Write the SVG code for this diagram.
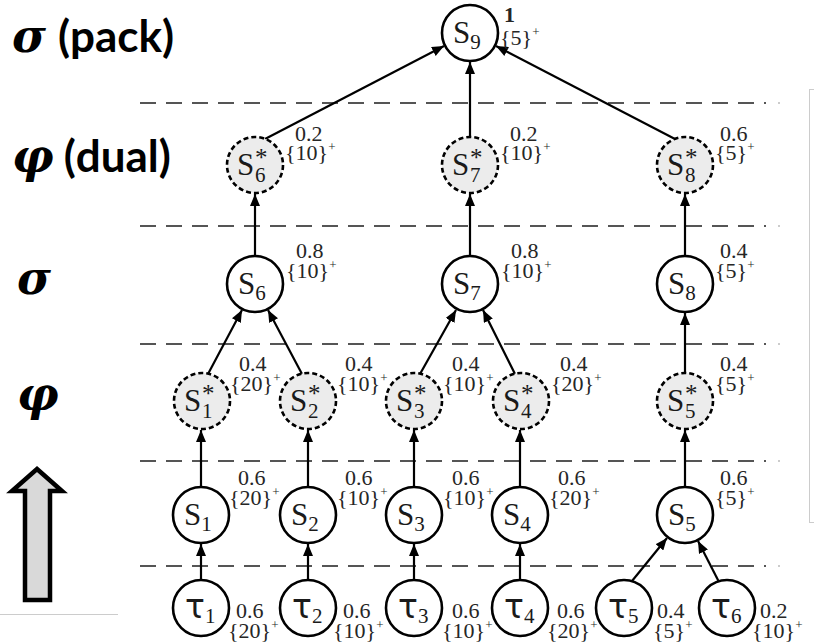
<svg xmlns="http://www.w3.org/2000/svg" width="814" height="642" viewBox="0 0 814 642">
  <defs>
    <marker id="ah" markerWidth="12" markerHeight="10" refX="12" refY="5" orient="auto" markerUnits="userSpaceOnUse">
      <path d="M0,0 L12,5 L0,10 z" fill="#000"/>
    </marker>
  </defs>
  <style>
    .node circle { fill: #fff; stroke: #000; stroke-width: 2.6; }
    .dual circle { fill: #ececec; stroke-dasharray: 5 3; }
    .nm { font-family: "Liberation Serif", serif; font-size: 31px; fill: #1a1a1a; }
    .sm { font-family: "Liberation Serif", serif; font-size: 21px; }
    .st { font-family: "Liberation Serif", serif; font-size: 25px; }
    .tau { font-family: "DejaVu Sans", sans-serif; font-size: 33px; fill: #1a1a1a; }
    .lbl { font-family: "Liberation Serif", serif; font-size: 22px; fill: #262626; }
    .sp { font-size: 13px; }
    .bold { font-weight: bold; }
    .level { stroke: #555; stroke-width: 2; stroke-dasharray: 16 10; fill: none; }
    .tick { fill: #bbb; }
    .edge { stroke: #000; stroke-width: 2.2; fill: none; marker-end: url(#ah); }
    .side { font-family: Lato, "Open Sans", sans-serif; font-weight: bold; font-size: 44px; fill: #000; }
    .greek { font-family: "DejaVu Serif", serif; font-weight: bold; font-style: italic; font-size: 46px; fill: #000; }
    .faint { stroke: #ccc; stroke-width: 1; fill: none; }
  </style>

  <!-- level separators -->
  <g id="levels">
    <line class="level" x1="140" y1="103" x2="766" y2="103"/>
    <line class="level" x1="140" y1="226" x2="766" y2="226"/>
    <line class="level" x1="140" y1="344" x2="766" y2="344"/>
    <line class="level" x1="140" y1="461" x2="766" y2="461"/>
    <line class="level" x1="140" y1="566" x2="766" y2="566"/>
    <circle class="tick" cx="779" cy="103" r="1"/>
    <circle class="tick" cx="779" cy="226" r="1"/>
    <circle class="tick" cx="779" cy="344" r="1"/>
    <circle class="tick" cx="779" cy="461" r="1"/>
    <circle class="tick" cx="779" cy="566" r="1"/>
  </g>

  <!-- faint frame edges -->
  <rect class="faint" x="809.5" y="89.5" width="20" height="433"/>
  <line class="faint" x1="0" y1="614.5" x2="118" y2="614.5"/>

  <!-- level names -->
  <g id="level-names">
    <text x="12" y="52"><tspan class="greek">σ</tspan><tspan class="side" dx="12">(pack)</tspan></text>
    <text x="12" y="172"><tspan class="greek">φ</tspan><tspan class="side" dx="10">(dual)</tspan></text>
    <text class="greek" x="17" y="294">σ</text>
    <text class="greek" x="17" y="410">φ</text>
  </g>

  <!-- direction arrow -->
  <polygon id="up-arrow" points="37,469 62,491 50,491 50,600 25,600 25,491 12,491" fill="#d9d9d9" stroke="#000" stroke-width="4.5" stroke-linejoin="miter"/>

  <!-- connectors -->
  <g id="edges">
    <line class="edge" x1="265" y1="139" x2="444" y2="46"/>
    <line class="edge" x1="470" y1="137" x2="470" y2="62"/>
    <line class="edge" x1="675" y1="139" x2="496" y2="46"/>
    <line class="edge" x1="255" y1="256" x2="255" y2="194"/>
    <line class="edge" x1="470" y1="256" x2="470" y2="194"/>
    <line class="edge" x1="685" y1="256" x2="685" y2="194"/>
    <line class="edge" x1="208" y1="374" x2="242" y2="310"/>
    <line class="edge" x1="302" y1="374" x2="268" y2="310"/>
    <line class="edge" x1="420" y1="374" x2="456" y2="310"/>
    <line class="edge" x1="515" y1="374" x2="483" y2="310"/>
    <line class="edge" x1="685" y1="373" x2="685" y2="313"/>
    <line class="edge" x1="201" y1="487" x2="201" y2="430"/>
    <line class="edge" x1="308" y1="487" x2="308" y2="430"/>
    <line class="edge" x1="414" y1="487" x2="414" y2="430"/>
    <line class="edge" x1="520" y1="487" x2="520" y2="430"/>
    <line class="edge" x1="685" y1="487" x2="685" y2="430"/>
    <line class="edge" x1="201" y1="580" x2="201" y2="544"/>
    <line class="edge" x1="308" y1="580" x2="308" y2="544"/>
    <line class="edge" x1="414" y1="580" x2="414" y2="544"/>
    <line class="edge" x1="520" y1="580" x2="520" y2="544"/>
    <line class="edge" x1="632" y1="581" x2="667" y2="538"/>
    <line class="edge" x1="719" y1="582" x2="698" y2="541"/>
  </g>

  <!-- pack level -->
  <g id="S9" class="node">
    <circle cx="470" cy="33" r="28"/>
    <text class="nm" x="453" y="43">S<tspan class="sm" dy="6">9</tspan></text>
    <text class="lbl bold" x="504" y="22">1</text>
    <text class="lbl" x="500" y="45">{5}<tspan class="sp" dy="-9">+</tspan></text>
  </g>

  <!-- dual level -->
  <g id="S6d" class="node dual">
    <circle cx="255" cy="165" r="28"/>
    <text class="nm" x="237" y="175">S<tspan class="st" x="255" dy="-9">*</tspan><tspan class="sm" x="255" dy="16">6</tspan></text>
    <text class="lbl" x="295" y="141">0.2</text>
    <text class="lbl" x="285" y="160">{10}<tspan class="sp" dy="-9">+</tspan></text>
  </g>
  <g id="S7d" class="node dual">
    <circle cx="470" cy="165" r="28"/>
    <text class="nm" x="452" y="175">S<tspan class="st" x="470" dy="-9">*</tspan><tspan class="sm" x="470" dy="16">7</tspan></text>
    <text class="lbl" x="510" y="141">0.2</text>
    <text class="lbl" x="500" y="160">{10}<tspan class="sp" dy="-9">+</tspan></text>
  </g>
  <g id="S8d" class="node dual">
    <circle cx="685" cy="165" r="28"/>
    <text class="nm" x="667" y="175">S<tspan class="st" x="685" dy="-9">*</tspan><tspan class="sm" x="685" dy="16">8</tspan></text>
    <text class="lbl" x="720" y="141">0.6</text>
    <text class="lbl" x="715" y="160">{5}<tspan class="sp" dy="-9">+</tspan></text>
  </g>

  <!-- sigma level -->
  <g id="S6" class="node">
    <circle cx="255" cy="284" r="28"/>
    <text class="nm" x="238" y="294">S<tspan class="sm" dy="6">6</tspan></text>
    <text class="lbl" x="296" y="258">0.8</text>
    <text class="lbl" x="286" y="278">{10}<tspan class="sp" dy="-9">+</tspan></text>
  </g>
  <g id="S7" class="node">
    <circle cx="470" cy="284" r="28"/>
    <text class="nm" x="453" y="294">S<tspan class="sm" dy="6">7</tspan></text>
    <text class="lbl" x="511" y="258">0.8</text>
    <text class="lbl" x="501" y="278">{10}<tspan class="sp" dy="-9">+</tspan></text>
  </g>
  <g id="S8" class="node">
    <circle cx="685" cy="284" r="28"/>
    <text class="nm" x="668" y="294">S<tspan class="sm" dy="6">8</tspan></text>
    <text class="lbl" x="720" y="258">0.4</text>
    <text class="lbl" x="715" y="278">{5}<tspan class="sp" dy="-9">+</tspan></text>
  </g>

  <!-- phi level -->
  <g id="S1d" class="node dual">
    <circle cx="202" cy="401" r="28"/>
    <text class="nm" x="184" y="411">S<tspan class="st" x="202" dy="-9">*</tspan><tspan class="sm" x="202" dy="16">1</tspan></text>
    <text class="lbl" x="239" y="371">0.4</text>
    <text class="lbl" x="230" y="391">{20}<tspan class="sp" dy="-9">+</tspan></text>
  </g>
  <g id="S2d" class="node dual">
    <circle cx="308" cy="401" r="28"/>
    <text class="nm" x="290" y="411">S<tspan class="st" x="308" dy="-9">*</tspan><tspan class="sm" x="308" dy="16">2</tspan></text>
    <text class="lbl" x="345" y="371">0.4</text>
    <text class="lbl" x="337" y="391">{10}<tspan class="sp" dy="-9">+</tspan></text>
  </g>
  <g id="S3d" class="node dual">
    <circle cx="414" cy="401" r="28"/>
    <text class="nm" x="396" y="411">S<tspan class="st" x="414" dy="-9">*</tspan><tspan class="sm" x="414" dy="16">3</tspan></text>
    <text class="lbl" x="452" y="371">0.4</text>
    <text class="lbl" x="443" y="391">{10}<tspan class="sp" dy="-9">+</tspan></text>
  </g>
  <g id="S4d" class="node dual">
    <circle cx="521" cy="401" r="28"/>
    <text class="nm" x="503" y="411">S<tspan class="st" x="521" dy="-9">*</tspan><tspan class="sm" x="521" dy="16">4</tspan></text>
    <text class="lbl" x="560" y="371">0.4</text>
    <text class="lbl" x="551" y="391">{20}<tspan class="sp" dy="-9">+</tspan></text>
  </g>
  <g id="S5d" class="node dual">
    <circle cx="685" cy="401" r="28"/>
    <text class="nm" x="667" y="411">S<tspan class="st" x="685" dy="-9">*</tspan><tspan class="sm" x="685" dy="16">5</tspan></text>
    <text class="lbl" x="720" y="371">0.4</text>
    <text class="lbl" x="715" y="391">{5}<tspan class="sp" dy="-9">+</tspan></text>
  </g>

  <!-- service level -->
  <g id="S1" class="node">
    <circle cx="201" cy="515" r="28"/>
    <text class="nm" x="184" y="525">S<tspan class="sm" dy="6">1</tspan></text>
    <text class="lbl" x="238" y="485">0.6</text>
    <text class="lbl" x="229" y="505">{20}<tspan class="sp" dy="-9">+</tspan></text>
  </g>
  <g id="S2" class="node">
    <circle cx="308" cy="515" r="28"/>
    <text class="nm" x="291" y="525">S<tspan class="sm" dy="6">2</tspan></text>
    <text class="lbl" x="345" y="485">0.6</text>
    <text class="lbl" x="337" y="505">{10}<tspan class="sp" dy="-9">+</tspan></text>
  </g>
  <g id="S3" class="node">
    <circle cx="414" cy="515" r="28"/>
    <text class="nm" x="397" y="525">S<tspan class="sm" dy="6">3</tspan></text>
    <text class="lbl" x="452" y="485">0.6</text>
    <text class="lbl" x="443" y="505">{10}<tspan class="sp" dy="-9">+</tspan></text>
  </g>
  <g id="S4" class="node">
    <circle cx="520" cy="515" r="28"/>
    <text class="nm" x="503" y="525">S<tspan class="sm" dy="6">4</tspan></text>
    <text class="lbl" x="558" y="485">0.6</text>
    <text class="lbl" x="549" y="505">{20}<tspan class="sp" dy="-9">+</tspan></text>
  </g>
  <g id="S5" class="node">
    <circle cx="685" cy="515" r="28"/>
    <text class="nm" x="668" y="525">S<tspan class="sm" dy="6">5</tspan></text>
    <text class="lbl" x="720" y="485">0.6</text>
    <text class="lbl" x="715" y="505">{5}<tspan class="sp" dy="-9">+</tspan></text>
  </g>

  <!-- task level -->
  <g id="t1" class="node">
    <circle cx="201" cy="608" r="28"/>
    <text class="tau" x="185" y="618">τ<tspan class="sm" dy="5">1</tspan></text>
    <text class="lbl" x="236" y="618">0.6</text>
    <text class="lbl" x="228" y="638">{20}<tspan class="sp" dy="-9">+</tspan></text>
  </g>
  <g id="t2" class="node">
    <circle cx="308" cy="608" r="28"/>
    <text class="tau" x="292" y="618">τ<tspan class="sm" dy="5">2</tspan></text>
    <text class="lbl" x="343" y="618">0.6</text>
    <text class="lbl" x="333" y="638">{10}<tspan class="sp" dy="-9">+</tspan></text>
  </g>
  <g id="t3" class="node">
    <circle cx="414" cy="608" r="28"/>
    <text class="tau" x="398" y="618">τ<tspan class="sm" dy="5">3</tspan></text>
    <text class="lbl" x="452" y="618">0.6</text>
    <text class="lbl" x="442" y="638">{10}<tspan class="sp" dy="-9">+</tspan></text>
  </g>
  <g id="t4" class="node">
    <circle cx="520" cy="608" r="28"/>
    <text class="tau" x="504" y="618">τ<tspan class="sm" dy="5">4</tspan></text>
    <text class="lbl" x="557" y="618">0.6</text>
    <text class="lbl" x="547" y="638">{20}<tspan class="sp" dy="-9">+</tspan></text>
  </g>
  <g id="t5" class="node">
    <circle cx="624" cy="608" r="28"/>
    <text class="tau" x="608" y="618">τ<tspan class="sm" dy="5">5</tspan></text>
    <text class="lbl" x="657" y="618">0.4</text>
    <text class="lbl" x="653" y="638">{5}<tspan class="sp" dy="-9">+</tspan></text>
  </g>
  <g id="t6" class="node">
    <circle cx="727" cy="608" r="28"/>
    <text class="tau" x="711" y="618">τ<tspan class="sm" dy="5">6</tspan></text>
    <text class="lbl" x="760" y="618">0.2</text>
    <text class="lbl" x="752" y="638">{10}<tspan class="sp" dy="-9">+</tspan></text>
  </g>
</svg>
